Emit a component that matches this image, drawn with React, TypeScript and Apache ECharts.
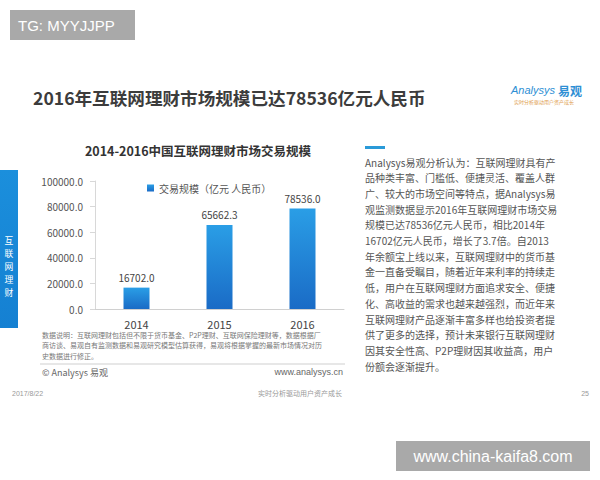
import React, { useEffect, useRef } from "react";
import * as echarts from "echarts";

const categories = ["2014", "2015", "2016"];
const values = [16702.0, 65662.3, 78536.0];
const seriesName = "交易规模（亿元 人民币）";
const pageTitle = "2016年互联网理财市场规模已达78536亿元人民币";
const chartTitle = "2014-2016中国互联网理财市场交易规模";
const sideLabel = ["互", "联", "网", "理", "财"];
const notes = [
  "数据说明：互联网理财包括但不限于货币基金、P2P理财、互联网保险理财等，数据根据厂",
  "商访谈、易观自有监测数据和易观研究模型估算获得，易观将根据掌握的最新市场情况对历",
  "史数据进行修正。",
];
const paragraph = [
  "Analysys易观分析认为：互联网理财具有产",
  "品种类丰富、门槛低、便捷灵活、覆盖人群",
  "广、较大的市场空间等特点，据Analysys易",
  "观监测数据显示2016年互联网理财市场交易",
  "规模已达78536亿元人民币，相比2014年",
  "16702亿元人民币，增长了3.7倍。自2013",
  "年余额宝上线以来，互联网理财中的货币基",
  "金一直备受瞩目，随着近年来利率的持续走",
  "低，用户在互联网理财方面追求安全、便捷",
  "化、高收益的需求也越来越强烈，而近年来",
  "互联网理财产品逐渐丰富多样也给投资者提",
  "供了更多的选择，预计未来银行互联网理财",
  "因其安全性高、P2P理财因其收益高，用户",
  "份额会逐渐提升。",
];

const FONT = '"Noto Sans CJK SC", "Noto Sans", sans-serif';
const LATIN = '"Liberation Sans", Arial, sans-serif';

export default function App() {
  const ref = useRef<HTMLDivElement>(null);
  useEffect(() => {
    if (!ref.current) return;
    const chart = echarts.init(ref.current, null, { renderer: "svg" });
    const barGrad = new echarts.graphic.LinearGradient(0, 0, 0, 1, [
      { offset: 0, color: "#2a9ee6" },
      { offset: 1, color: "#1a6bc6" },
    ]);
    const txt = (text: string, x: number, y: number, o: any = {}) => ({
      type: "text",
      x,
      y,
      silent: true,
      style: {
        text,
        fill: o.fill || "#555",
        fontSize: o.fontSize || 10,
        fontFamily: o.fontFamily || FONT,
        fontWeight: o.fontWeight || "normal",
        fontStyle: o.fontStyle || "normal",
        align: o.align || "left",
        verticalAlign: o.verticalAlign || "middle",
      },
    });
    const noteEls = notes.map((t, i) => txt(t, 42, 335 + i * 10.3, { fontSize: 7, fill: "#777" }));
    const sideEls = sideLabel.map((t, i) => txt(t, 9, 240 + i * 13, { fontSize: 8.8, fill: "#ffffff", align: "center" }));
    const paraEls = paragraph.map((t, i) => txt(t, 365, 162 + i * 15.7, { fontSize: 10, fill: "#555" }));
    chart.setOption({
      animation: false,
      backgroundColor: "#ffffff",
      grid: { left: 95, top: 181, width: 249, height: 128, containLabel: false },
      legend: {
        data: [seriesName],
        left: 142,
        top: 178,
        itemWidth: 7,
        itemHeight: 7,
        itemGap: 4,
        icon: "rect",
        textStyle: { fontSize: 10, color: "#555", fontFamily: FONT },
      },
      xAxis: {
        type: "category",
        data: categories,
        axisLine: { show: true, lineStyle: { color: "#d0d0d0" } },
        axisTick: { show: false },
        axisLabel: { fontSize: 11, color: "#444", margin: 9, fontFamily: FONT },
      },
      yAxis: {
        type: "value",
        min: 0,
        max: 100000,
        interval: 20000,
        axisLine: { show: true, lineStyle: { color: "#d8d8d8" } },
        axisTick: { show: true, length: 5, lineStyle: { color: "#d8d8d8" } },
        splitLine: { show: false },
        axisLabel: {
          fontSize: 10,
          color: "#555",
          margin: 12,
          fontFamily: FONT,
          formatter: (v: number) => v.toFixed(1),
        },
      },
      series: [
        {
          name: seriesName,
          type: "bar",
          data: values,
          barWidth: 26,
          itemStyle: { color: barGrad },
          label: {
            show: true,
            position: "top",
            distance: 5,
            fontSize: 10,
            color: "#444",
            fontFamily: FONT,
            formatter: (p: any) => Number(p.value).toFixed(1),
          },
        },
      ],
      graphic: [
        // top-left tag
        { type: "rect", shape: { x: 10, y: 10, width: 125, height: 30 }, style: { fill: "#a9a9a9" }, silent: true },
        txt("TG: MYYJJPP", 18, 25, { fontSize: 15, fill: "#ffffff", fontFamily: LATIN }),
        // page title
        txt(pageTitle, 33, 97, { fontSize: 17.6, fontWeight: "bold", fill: "#3c3c3c" }),
        // logo
        txt("Analysys", 511, 90, { fontSize: 11, fill: "#2e8fd4", fontStyle: "italic", fontFamily: LATIN }),
        txt("易观", 558, 90, { fontSize: 12, fill: "#2e8fd4", fontWeight: "bold" }),
        txt("实时分析驱动用户资产成长", 514, 101, { fontSize: 5, fill: "#e0a050" }),
        // left band
        {
          type: "rect",
          shape: { x: 0, y: 170, width: 18, height: 158 },
          style: {
            fill: new echarts.graphic.LinearGradient(0, 0, 0, 1, [
              { offset: 0, color: "#1b8fdc" },
              { offset: 1, color: "#1580d2" },
            ]),
          },
          silent: true,
        },
        ...sideEls,
        // chart title
        txt(chartTitle, 198, 150, { fontSize: 12.5, fontWeight: "bold", fill: "#333", align: "center" }),
        // notes
        ...noteEls,
        { type: "line", shape: { x1: 40, y1: 364, x2: 345, y2: 364 }, style: { stroke: "#cfcfcf", lineWidth: 1 }, silent: true },
        txt("© Analysys 易观", 42, 372, { fontSize: 9, fill: "#666" }),
        txt("www.analysys.cn", 343, 372, { fontSize: 9, fill: "#666", align: "right", fontFamily: LATIN }),
        // footer
        txt("2017/8/22", 12, 393, { fontSize: 7, fill: "#999", fontFamily: LATIN }),
        txt("实时分析驱动用户资产成长", 300, 393, { fontSize: 7, fill: "#999", align: "center" }),
        txt("25", 589, 393, { fontSize: 7, fill: "#999", align: "right", fontFamily: LATIN }),
        // right paragraph
        { type: "rect", shape: { x: 365, y: 146, width: 20, height: 3 }, style: { fill: "#2a9ad8" }, silent: true },
        ...paraEls,
        // bottom-right tag
        { type: "rect", shape: { x: 396, y: 441, width: 194, height: 30 }, style: { fill: "#a9a9a9" }, silent: true },
        txt("www.china-kaifa8.com", 493, 456, { fontSize: 16, fill: "#ffffff", align: "center", fontFamily: LATIN }),
      ],
    });
    return () => chart.dispose();
  }, []);
  return (
    <div
      ref={ref}
      style={{ position: "absolute", left: 0, top: 0, width: 600, height: 480 }}
    />
  );
}
